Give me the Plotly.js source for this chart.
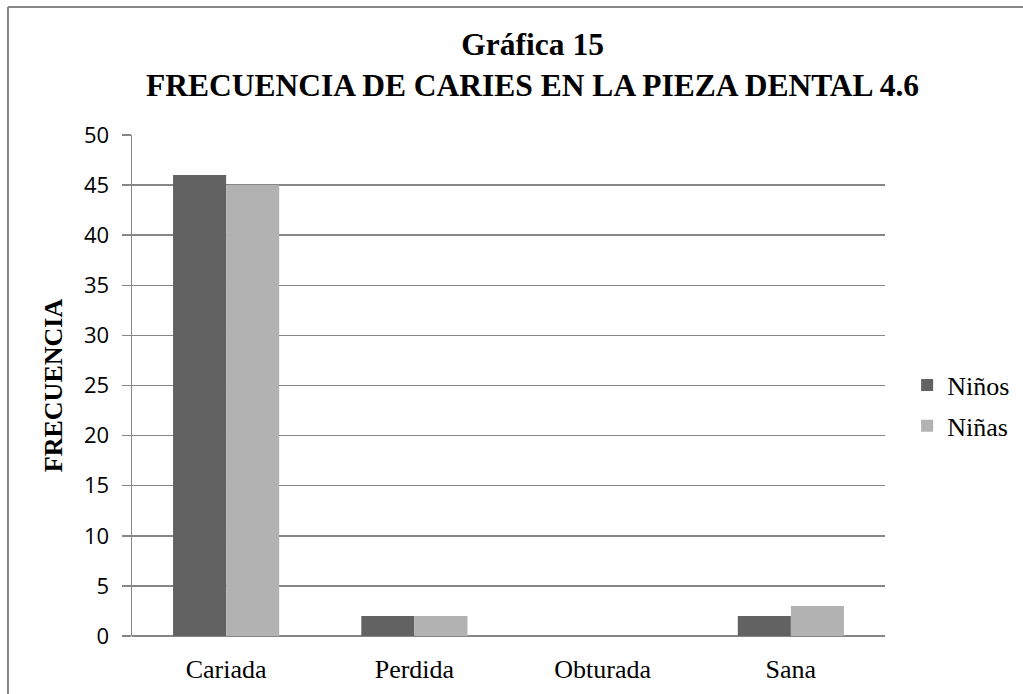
<!DOCTYPE html>
<html>
<head>
<meta charset="utf-8">
<script src="https://cdn.plot.ly/plotly-3.0.1.min.js"></script>
<style>body{margin:0;padding:0;background:#fff;}#chart{width:1023px;height:694px;}</style>
</head>
<body>
<div id="chart"></div>
<script>
const categories = ["Cariada", "Perdida", "Obturada", "Sana"];
const ninos = [46, 2, 0, 2];
const ninas = [45, 2, 0, 3];
const seriesNames = ["Niños", "Niñas"];
const yTicks = [0, 5, 10, 15, 20, 25, 30, 35, 40, 45, 50];

const serif = "Liberation Serif, Times New Roman, serif";
const sans = "Open Sans, Liberation Sans, sans-serif";

const traces = [
  {type: "bar", x: categories, y: ninos, name: seriesNames[0], legendgroup: "a", marker: {color: "#626262"}},
  {type: "bar", x: categories, y: ninas, name: seriesNames[1], legendgroup: "b", marker: {color: "#b2b2b2"}}
];

const layout = {
  width: 1023, height: 694,
  margin: {l: 132, r: 138, t: 135, b: 58, autoexpand: false},
  paper_bgcolor: "#fff", plot_bgcolor: "#fff",
  barmode: "group", bargap: 0.436, bargroupgap: 0,
  title: {
    text: "<b>Gráfica 15<br>FRECUENCIA DE CARIES EN LA PIEZA DENTAL 4.6</b>",
    font: {family: serif, size: 31.5, color: "#000"},
    x: 0.532, xanchor: "center", xref: "paper",
    y: 0.921, yanchor: "middle"
  },
  xaxis: {
    type: "category", automargin: false,
    showgrid: false, zeroline: false,
    showline: false, ticks: "",
    tickfont: {family: serif, size: 26, color: "#000"},
    ticklabelstandoff: 15
  },
  yaxis: {
    range: [0, 50], automargin: false,
    tickvals: yTicks,
    ticktext: yTicks.map(String),
    showgrid: true, gridcolor: "#868686", gridwidth: 1.5,
    zeroline: true, zerolinecolor: "#868686", zerolinewidth: 1.5,
    showline: true, linecolor: "#868686", linewidth: 1.5,
    ticks: "outside", ticklen: 9, tickcolor: "#868686", tickwidth: 1.5,
    tickfont: {family: sans, size: 22, color: "#000"},
    ticklabelstandoff: 8,
    title: {text: "<b>FRECUENCIA</b>", font: {family: serif, size: 26, color: "#000"}, standoff: 14}
  },
  legend: {
    x: 1.0294, xanchor: "left", y: 0.46, yanchor: "middle",
    font: {family: serif, size: 26, color: "#000"},
    bgcolor: "rgba(0,0,0,0)", traceorder: "grouped", tracegroupgap: 4, itemwidth: 30
  },
  shapes: [
    {type: "line", xref: "paper", yref: "paper", x0: -0.1647, x1: 1.2, y0: 1.2555, y1: 1.2555,
     line: {color: "#868686", width: 2}},
    {type: "line", xref: "paper", yref: "paper", x0: -0.1647, x1: -0.1647, y0: 1.2555, y1: -0.2,
     line: {color: "#868686", width: 2}}
  ]
};

Plotly.newPlot("chart", traces, layout, {displayModeBar: false, staticPlot: true});
</script>
</body>
</html>
